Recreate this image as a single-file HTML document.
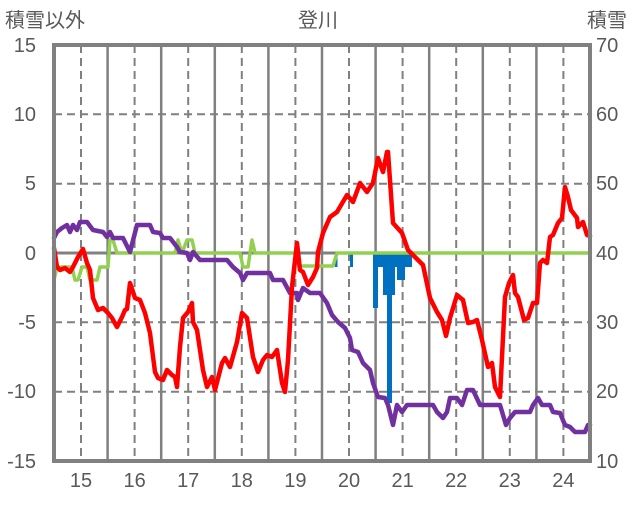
<!DOCTYPE html>
<html><head><meta charset="utf-8"><style>
html,body{margin:0;padding:0;background:#fff;}
svg text{font-family:"Liberation Sans","Noto Sans CJK JP",sans-serif;fill:#595959;}
</style></head><body>
<svg width="636" height="501" viewBox="0 0 636 501" xmlns="http://www.w3.org/2000/svg">
<rect width="636" height="501" fill="#fff"/>
<g stroke="#808080" stroke-width="2" stroke-dasharray="8,5">
<line x1="54" y1="114.3" x2="590" y2="114.3"/>
<line x1="54" y1="183.7" x2="590" y2="183.7"/>
<line x1="54" y1="322.3" x2="590" y2="322.3"/>
<line x1="54" y1="391.7" x2="590" y2="391.7"/>
<line x1="81" y1="45" x2="81" y2="461"/><line x1="134.6" y1="45" x2="134.6" y2="461"/>
<line x1="188.2" y1="45" x2="188.2" y2="461"/><line x1="241.8" y1="45" x2="241.8" y2="461"/>
<line x1="295.4" y1="45" x2="295.4" y2="461"/><line x1="349" y1="45" x2="349" y2="461"/>
<line x1="402.6" y1="45" x2="402.6" y2="461"/><line x1="456.2" y1="45" x2="456.2" y2="461"/>
<line x1="509.8" y1="45" x2="509.8" y2="461"/><line x1="563.4" y1="45" x2="563.4" y2="461"/>
</g>
<g stroke="#808080" stroke-width="2.5">
<line x1="107.6" y1="45" x2="107.6" y2="461"/><line x1="161.2" y1="45" x2="161.2" y2="461"/>
<line x1="214.8" y1="45" x2="214.8" y2="461"/><line x1="268.4" y1="45" x2="268.4" y2="461"/>
<line x1="322" y1="45" x2="322" y2="461"/><line x1="375.6" y1="45" x2="375.6" y2="461"/>
<line x1="429.2" y1="45" x2="429.2" y2="461"/><line x1="482.8" y1="45" x2="482.8" y2="461"/>
<line x1="536.4" y1="45" x2="536.4" y2="461"/>
<line x1="54" y1="253" x2="590" y2="253" stroke-width="3"/>
</g>
<g fill="#0070C0">
<rect x="335" y="253" width="2.5" height="14"/>
<rect x="350" y="253" width="3" height="14"/>
<rect x="373" y="253" width="5" height="55"/>
<rect x="378" y="253" width="5" height="14"/>
<rect x="383" y="253" width="4" height="42"/>
<rect x="387" y="253" width="5" height="150"/>
<rect x="392" y="253" width="3" height="42"/>
<rect x="395" y="253" width="2" height="14"/>
<rect x="397" y="253" width="8" height="27"/>
<rect x="405" y="253" width="7" height="14"/>
</g>
<g fill="none" stroke-width="4.5" stroke-linejoin="round" stroke-linecap="round">
<polyline stroke="#92D050" stroke-width="3.5" points="54,280 57,267 72,267 75,280 78,280 82,267 87,267 90,280 97,280 100,267 108,267 110,240 113,240 117,253 175,253 178,240 182,253 187,240 192,240 195,253 240,253 243,267 248,267 252,240 255,253 296,253 299,266 320,266 323,266 333,266 337,253 590,253"/>
<polyline stroke="#7030A0" points="54,238 57,232 62,228 67,225 70,232 73,225 77,230 80,222 87,222 93,230 103,232 107,237 110,232 113,238 123,238 130,252 137,225 150,225 153,232 160,233 163,238 170,238 177,247 180,252 187,253 190,260 193,252 200,260 227,260 233,267 240,273 243,280 247,273 270,273 273,280 283,280 290,293 297,293 298,300 303,288 310,293 320,293 327,303 332,315 338,322 345,328 350,338 352,350 358,352 363,363 370,370 373,383 378,397 385,398 388,405 393,425 397,405 402,412 407,405 433,405 437,412 443,418 447,412 450,398 457,398 462,405 467,390 473,390 480,405 500,405 506,425 510,418 515,412 530,412 533,405 538,398 542,405 550,405 553,412 560,413 565,425 570,427 575,432 585,432 588,425 590,425"/>
<polyline stroke="#FF0000" points="54,248 57,267 60,270 65,268 70,272 73,267 78,257 83,249 87,263 90,270 93,298 98,310 103,308 108,313 112,318 117,327 122,317 125,310 127,309 130,283 135,298 140,300 145,313 150,333 155,372 158,378 163,380 167,370 172,375 175,377 177,387 180,347 183,318 188,312 192,303 193,322 197,330 203,370 207,387 212,377 215,390 222,363 225,358 230,367 237,342 242,313 247,318 253,357 258,372 263,360 267,355 272,357 277,350 282,383 285,392 288,360 292,287 297,243 300,270 303,272 308,285 313,277 317,268 318,252 323,233 330,217 337,212 347,195 353,202 360,183 367,192 373,183 378,158 383,172 387,152 388,152 393,223 402,233 408,250 415,257 423,265 430,298 437,312 442,320 446,336 450,318 457,295 463,300 468,323 473,322 477,320 482,340 488,367 492,363 495,387 500,397 505,297 509,283 513,275 515,293 518,297 524,320 528,318 533,303 537,303 540,263 543,260 547,263 550,237 553,235 558,223 562,218 565,187 568,197 571,210 577,218 578,227 583,222 587,235 590,236"/>
</g>
<rect x="54" y="45" width="536" height="416" fill="none" stroke="#808080" stroke-width="4"/>
<g font-size="20" text-anchor="end">
<text x="36" y="52">15</text><text x="36" y="121">10</text><text x="36" y="190">5</text>
<text x="36" y="260">0</text><text x="36" y="329">-5</text><text x="36" y="398">-10</text><text x="36" y="468">-15</text>
</g>
<g font-size="20" text-anchor="start">
<text x="596" y="52">70</text><text x="596" y="121">60</text><text x="596" y="190">50</text>
<text x="596" y="260">40</text><text x="596" y="329">30</text><text x="596" y="398">20</text><text x="596" y="468">10</text>
</g>
<g font-size="20" text-anchor="middle">
<text x="81" y="487">15</text><text x="134.6" y="487">16</text><text x="188.2" y="487">17</text>
<text x="241.8" y="487">18</text><text x="295.4" y="487">19</text><text x="349" y="487">20</text>
<text x="402.6" y="487">21</text><text x="456.2" y="487">22</text><text x="509.8" y="487">23</text>
<text x="563.4" y="487">24</text>
</g>
<text x="5" y="27" font-size="20">積雪以外</text>
<text x="318" y="27" font-size="20" text-anchor="middle">登川</text>
<text x="587" y="27" font-size="20">積雪</text>
</svg>
</body></html>
